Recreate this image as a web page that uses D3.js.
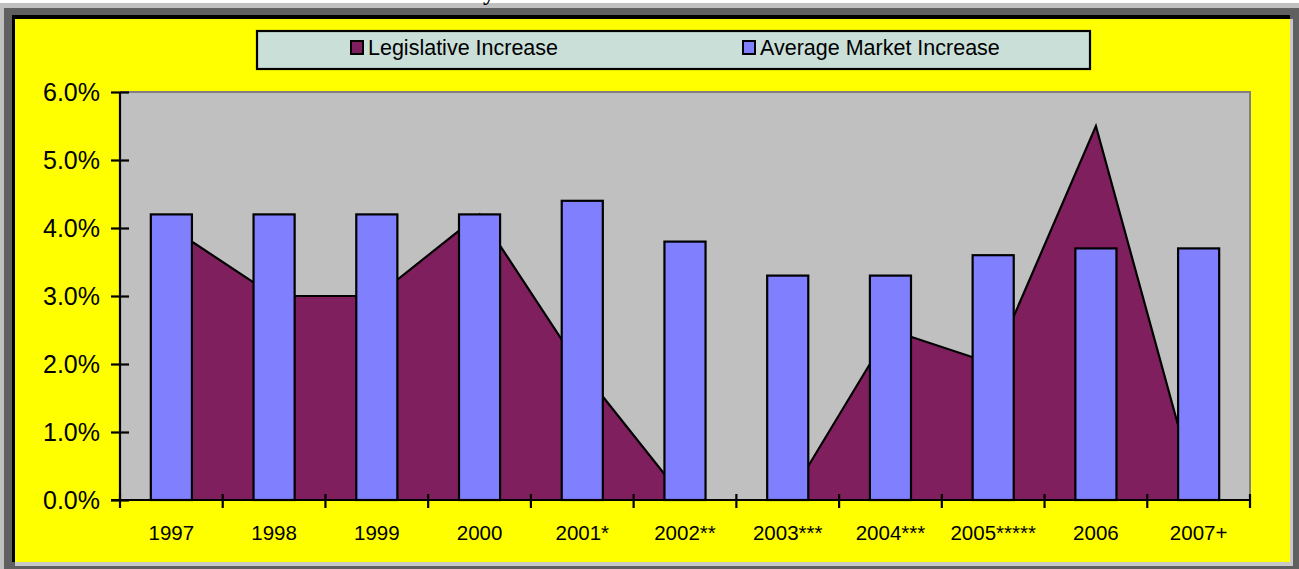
<!DOCTYPE html>
<html>
<head>
<meta charset="utf-8">
<script src="https://cdn.jsdelivr.net/npm/d3@7"></script>
<style>
  html, body { margin: 0; padding: 0; background: #ffffff; overflow: hidden; }
  svg { display: block; }
  text { font-family: "Liberation Sans", Arial, sans-serif; fill: #000; }
</style>
</head>
<body>
<svg id="chart" width="1299" height="569"></svg>
<script>
// Rent increase history: legislated increase vs. average market increase
const categories = ["1997", "1998", "1999", "2000", "2001*", "2002**", "2003***", "2004***", "2005*****", "2006", "2007+"];
const legislativeIncrease = [4.0, 3.0, 3.0, 4.2, 1.9, 0.0, 0.0, 2.5, 2.0, 5.5, 0.0];
const marketIncrease = [4.2, 4.2, 4.2, 4.2, 4.4, 3.8, 3.3, 3.3, 3.6, 3.7, 3.7];
const yTickValues = [0, 1, 2, 3, 4, 5, 6];
const seriesNames = ["Legislative Increase", "Average Market Increase"];
const titleText = "Rent Increase History";

const COLORS = { area: "#7F1F5E", bar: "#8080FF", plot: "#C0C0C0", legend: "#C9DFD8", chart: "#FFFF00" };

const svg = d3.select("#chart");

// Window-style frame around the chart
svg.append("rect").attr("x", 0).attr("y", 3).attr("width", 1299).attr("height", 566).attr("fill", "#C0C0C0");
svg.append("rect").attr("x", 4).attr("y", 8).attr("width", 1295).attr("height", 561).attr("fill", "#606060");
svg.append("rect").attr("x", 12).attr("y", 15).attr("width", 1278).attr("height", 547).attr("fill", "#000");
svg.append("rect").attr("x", 15).attr("y", 19).attr("width", 1278).attr("height", 547).attr("fill", "#C8C8C8");
svg.append("rect").attr("x", 15).attr("y", 19).attr("width", 1275).attr("height", 543).attr("fill", COLORS.chart);

// Title, scrolled mostly out of view above the frame
svg.append("text")
  .attr("x", 495).attr("y", 0)
  .attr("text-anchor", "end")
  .style("font-family", "'Liberation Serif', 'Times New Roman', serif")
  .style("font-weight", "bold")
  .style("font-size", "24px")
  .style("fill", "#000")
  .text(titleText);

// Plot area
const plot = { left: 120, right: 1250, top: 92, bottom: 500 };

const x = d3.scaleBand().domain(categories).range([plot.left, plot.right]).padding(0);
const y = d3.scaleLinear().domain([0, 6]).range([plot.bottom, plot.top]);
const cx = c => x(c) + x.bandwidth() / 2;

svg.append("rect")
  .attr("x", plot.left).attr("y", plot.top)
  .attr("width", plot.right - plot.left).attr("height", plot.bottom - plot.top)
  .attr("fill", COLORS.plot);
svg.append("path")
  .attr("d", `M${plot.left},${plot.top}H${plot.right}V${plot.bottom}`)
  .attr("fill", "none").attr("stroke", "#808080").attr("stroke-width", 2);

// Legislative increase: area series
const areaData = categories.map((c, i) => ({ c, v: legislativeIncrease[i] }));
const area = d3.area().x(d => cx(d.c)).y0(y(0)).y1(d => y(d.v));
const line = d3.line().x(d => cx(d.c)).y(d => y(d.v));

svg.append("path").datum(areaData).attr("d", area).attr("fill", COLORS.area);
svg.append("path").datum(areaData).attr("d", line)
  .attr("fill", "none").attr("stroke", "#000").attr("stroke-width", 2.2).attr("stroke-linejoin", "miter");

// Average market increase: columns
const barW = x.bandwidth() / 2.5;
svg.append("g").selectAll("rect")
  .data(categories.map((c, i) => ({ c, v: marketIncrease[i] })))
  .join("rect")
  .attr("x", d => cx(d.c) - barW / 2)
  .attr("y", d => y(d.v))
  .attr("width", barW)
  .attr("height", d => y(0) - y(d.v))
  .attr("fill", COLORS.bar)
  .attr("stroke", "#000")
  .attr("stroke-width", 2.2);

// Y axis with crossing tick marks
const yAxis = svg.append("g")
  .attr("transform", `translate(${plot.left},0)`)
  .call(d3.axisLeft(y).tickValues(yTickValues).tickFormat(d => d.toFixed(1) + "%").tickSize(9).tickPadding(12));
yAxis.select(".domain").attr("stroke", "#000").attr("stroke-width", 2.2).attr("d", `M0,${plot.top}V${plot.bottom}`);
yAxis.selectAll(".tick line").attr("x1", -9).attr("x2", 9).attr("stroke", "#000").attr("stroke-width", 2.2);
yAxis.selectAll(".tick text")
  .attr("x", -20)
  .style("font-family", "'Liberation Sans', Arial, sans-serif")
  .style("font-size", "25px");

// X axis: labels centred in each category, ticks on category boundaries
const xAxis = svg.append("g")
  .attr("transform", `translate(0,${plot.bottom})`)
  .call(d3.axisBottom(x).tickSize(0).tickPadding(25));
xAxis.select(".domain").remove();
xAxis.selectAll(".tick text")
  .style("font-family", "'Liberation Sans', Arial, sans-serif")
  .style("font-size", "20.5px");

const boundaries = categories.map(c => x(c)).concat([plot.right]);
svg.append("line")
  .attr("x1", plot.left - 9).attr("x2", plot.right)
  .attr("y1", plot.bottom).attr("y2", plot.bottom)
  .attr("stroke", "#000").attr("stroke-width", 2.2);
svg.append("g").selectAll("line")
  .data(boundaries)
  .join("line")
  .attr("x1", d => d).attr("x2", d => d)
  .attr("y1", plot.bottom - 6).attr("y2", plot.bottom + 8)
  .attr("stroke", "#000").attr("stroke-width", 2.2);

// Legend
const legend = svg.append("g");
legend.append("rect")
  .attr("x", 257).attr("y", 31).attr("width", 833).attr("height", 38)
  .attr("fill", COLORS.legend).attr("stroke", "#000").attr("stroke-width", 2.2);
const legendItems = [
  { name: seriesNames[0], color: COLORS.area, x: 351 },
  { name: seriesNames[1], color: COLORS.bar, x: 743 }
];
const li = legend.selectAll("g.item").data(legendItems).join("g").attr("class", "item");
li.append("rect")
  .attr("x", d => d.x).attr("y", 41).attr("width", 12).attr("height", 13)
  .attr("fill", d => d.color).attr("stroke", "#000").attr("stroke-width", 2);
li.append("text")
  .attr("x", d => d.x + 17).attr("y", 55)
  .style("font-size", "21.5px")
  .text(d => d.name);
</script>
</body>
</html>
